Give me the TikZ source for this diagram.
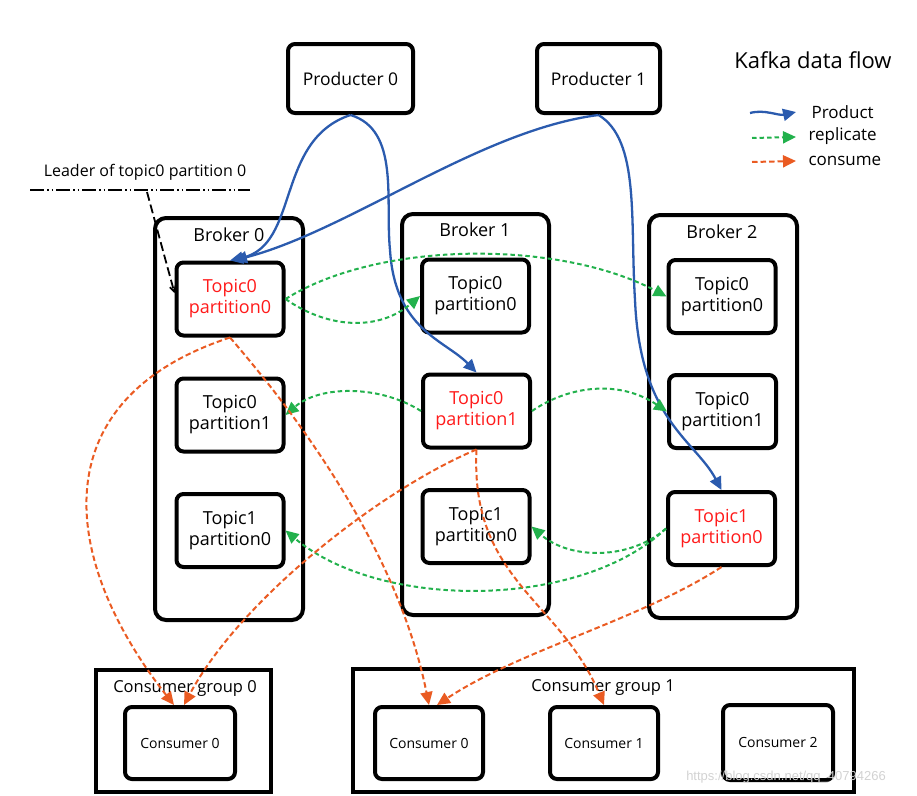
\documentclass[tikz,border=0pt]{standalone}
\usepackage{fontspec}
\setmainfont{Open Sans}
\newfontfamily\wmfont{Liberation Sans}
\usetikzlibrary{arrows.meta}
\definecolor{prodblue}{HTML}{2B5BAE}
\definecolor{replgreen}{HTML}{22B14C}
\definecolor{consorange}{HTML}{EA5B22}
\definecolor{leadred}{HTML}{FF1A1A}
\begin{document}
\begin{tikzpicture}[x=1pt,y=-1pt,
  box/.style={draw=black, line width=4pt, rounded corners=7pt, fill=white, align=center},
  part/.style={box, minimum width=107pt, minimum height=73pt, font=\fontsize{18}{21}\selectfont},
  brokerbox/.style={draw=black, line width=4pt, rounded corners=11pt},
  groupbox/.style={draw=black, line width=4pt},
  prod/.style={draw=prodblue, line width=2.3pt, -{Triangle[length=13pt,width=12pt]}},
  repl/.style={draw=replgreen, line width=2pt, dash pattern=on 4.5pt off 3pt, -{Triangle[length=13pt,width=12pt]}},
  cons/.style={draw=consorange, line width=2pt, dash pattern=on 5.5pt off 3pt, -{Triangle[length=13pt,width=12pt]}},
  lbl/.style={font=\fontsize{18}{21}\selectfont}
]
\useasboundingbox (0,0) rectangle (917,795);

% producers
\node[box, minimum width=125pt, minimum height=69pt, font=\fontsize{17.5}{20}\selectfont] (p0) at (350.5,78.5) {Producter 0};
\node[box, minimum width=123pt, minimum height=69pt, font=\fontsize{17.5}{20}\selectfont] (p1) at (598.5,78.5) {Producter 1};

% legend
\node[font=\fontsize{22}{24}\selectfont] (title) at (813,60) {Kafka data flow};
\node[anchor=west, font=\fontsize{17}{20}\selectfont] (lgp) at (808,112) {Product};
\node[anchor=west, font=\fontsize{17}{20}\selectfont] (lgr) at (805,136) {replicate};
\node[anchor=west, font=\fontsize{17}{20}\selectfont] (lgc) at (805,161) {consume};
\coordinate (lgp0) at (750,113);
\coordinate (lgp1) at (796,112);
\coordinate (lgr0) at (752,138);
\coordinate (lgr1) at (796,137);
\coordinate (lgc0) at (752,162);
\coordinate (lgc1) at (796,161);
\draw[prod] (lgp0) .. controls (765,109) and (778,116) .. (lgp1);
\draw[repl] (lgr0) -- (lgr1);
\draw[cons] (lgc0) -- (lgc1);

% brokers
\node[brokerbox, minimum width=148pt, minimum height=402pt] (b0) at (229,419) {};
\node[brokerbox, minimum width=147pt, minimum height=401pt] (b1) at (475.5,414.5) {};
\node[brokerbox, minimum width=148pt, minimum height=403pt] (b2) at (723,416.5) {};
\node[lbl] (b0l) at (229,235) {Broker 0};
\node[lbl] (b1l) at (475,230) {Broker 1};
\node[lbl] (b2l) at (722,232) {Broker 2};

% partitions
\node[part, text=leadred] (b0t0) at (230,299) {Topic0\\partition0};
\node[part] (b0t1) at (230,415) {Topic0\\partition1};
\node[part] (b0t2) at (230,530.5) {Topic1\\partition0};
\node[part] (b1t0) at (475.5,296) {Topic0\\partition0};
\node[part, text=leadred] (b1t1) at (476.5,411) {Topic0\\partition1};
\node[part] (b1t2) at (476,526.5) {Topic1\\partition0};
\node[part] (b2t0) at (722,296.5) {Topic0\\partition0};
\node[part] (b2t1) at (722.5,411.5) {Topic0\\partition1};
\node[part, text=leadred] (b2t2) at (721.5,528.5) {Topic1\\partition0};

% consumer groups
\node[groupbox, minimum width=175pt, minimum height=122pt] (cg0) at (183.5,731) {};
\node[groupbox, minimum width=501pt, minimum height=123pt] (cg1) at (603.5,730.5) {};
\node[font=\fontsize{16.5}{19}\selectfont] (cg0l) at (185,688) {Consumer group 0};
\node[font=\fontsize{16.5}{19}\selectfont] (cg1l) at (603,687) {Consumer group 1};
\node[box, minimum width=110pt, minimum height=72pt, font=\fontsize{14}{16}\selectfont] (c00) at (180,743) {Consumer 0};
\node[box, minimum width=108pt, minimum height=72pt, font=\fontsize{14}{16}\selectfont] (c10) at (429,743) {Consumer 0};
\node[box, minimum width=108pt, minimum height=72pt, font=\fontsize{14}{16}\selectfont] (c11) at (604,743) {Consumer 1};
\node[box, minimum width=110pt, minimum height=75pt, font=\fontsize{14}{16}\selectfont] (c12) at (778,742.5) {Consumer 2};

% leader annotation
\node[font=\fontsize{16}{18}\selectfont] (leader) at (145,172) {Leader of topic0 partition 0};
\coordinate (ul0) at (30,190);
\coordinate (ul1) at (250,190);
\coordinate (ld0) at (147,192);
\draw[line width=2.5pt, dash pattern=on 14pt off 3pt on 1.5pt off 3pt on 1.5pt off 3pt] (ul0) -- (ul1);
\draw[line width=1.8pt, dash pattern=on 9pt off 4pt, -{Straight Barb[length=5pt,width=6pt]}] (ld0) -- ([yshift=6pt]b0t0.west);

% product (blue)
\draw[prod] (p0.south) .. controls (275,140) and (300,245) .. (b0t0.north);
\draw[prod] (p0.south) .. controls (400,130) and (385,200) .. (390,250) .. controls (395,330) and (445,340) .. (b1t1.north);
\draw[prod] (p1.south) .. controls (480,130) and (350,230) .. ([xshift=4pt]b0t0.north);
\draw[prod] (p1.south) .. controls (640,140) and (630,220) .. (635,300) .. controls (640,420) and (695,440) .. (b2t2.north);

% replicate (green)
\draw[repl] (b0t0.east) .. controls (380,240) and (560,240) .. (b2t0.west);
\draw[repl] (b0t0.east) .. controls (330,330) and (380,330) .. (b1t0.west);
\draw[repl] (b1t1.west) .. controls (380,385) and (320,385) .. (b0t1.east);
\draw[repl] (b1t1.east) .. controls (570,385) and (620,380) .. (b2t1.west);
\draw[repl] (b2t2.west) .. controls (630,560) and (570,560) .. (b1t2.east);
\draw[repl] (b2t2.west) .. controls (580,610) and (380,610) .. (b0t2.east);

% consume (orange)
\draw[cons] (b0t0.south) .. controls (40,400) and (60,560) .. ([xshift=-6pt]c00.north);
\draw[cons] (b0t0.south) .. controls (310,430) and (400,560) .. (c10.north);
\draw[cons] (b1t1.south) .. controls (380,490) and (240,600) .. ([xshift=4pt]c00.north);
\draw[cons] (b1t1.south) .. controls (470,580) and (560,600) .. (c11.north);
\draw[cons] (b2t2.south) .. controls (640,620) and (520,650) .. ([xshift=8pt]c10.north);

% watermark
\node[text=gray!35, font=\wmfont\fontsize{13}{15}\selectfont] (wm) at (786,777) {https://blog.csdn.net/qq\_40794266};
\end{tikzpicture}
\end{document}
